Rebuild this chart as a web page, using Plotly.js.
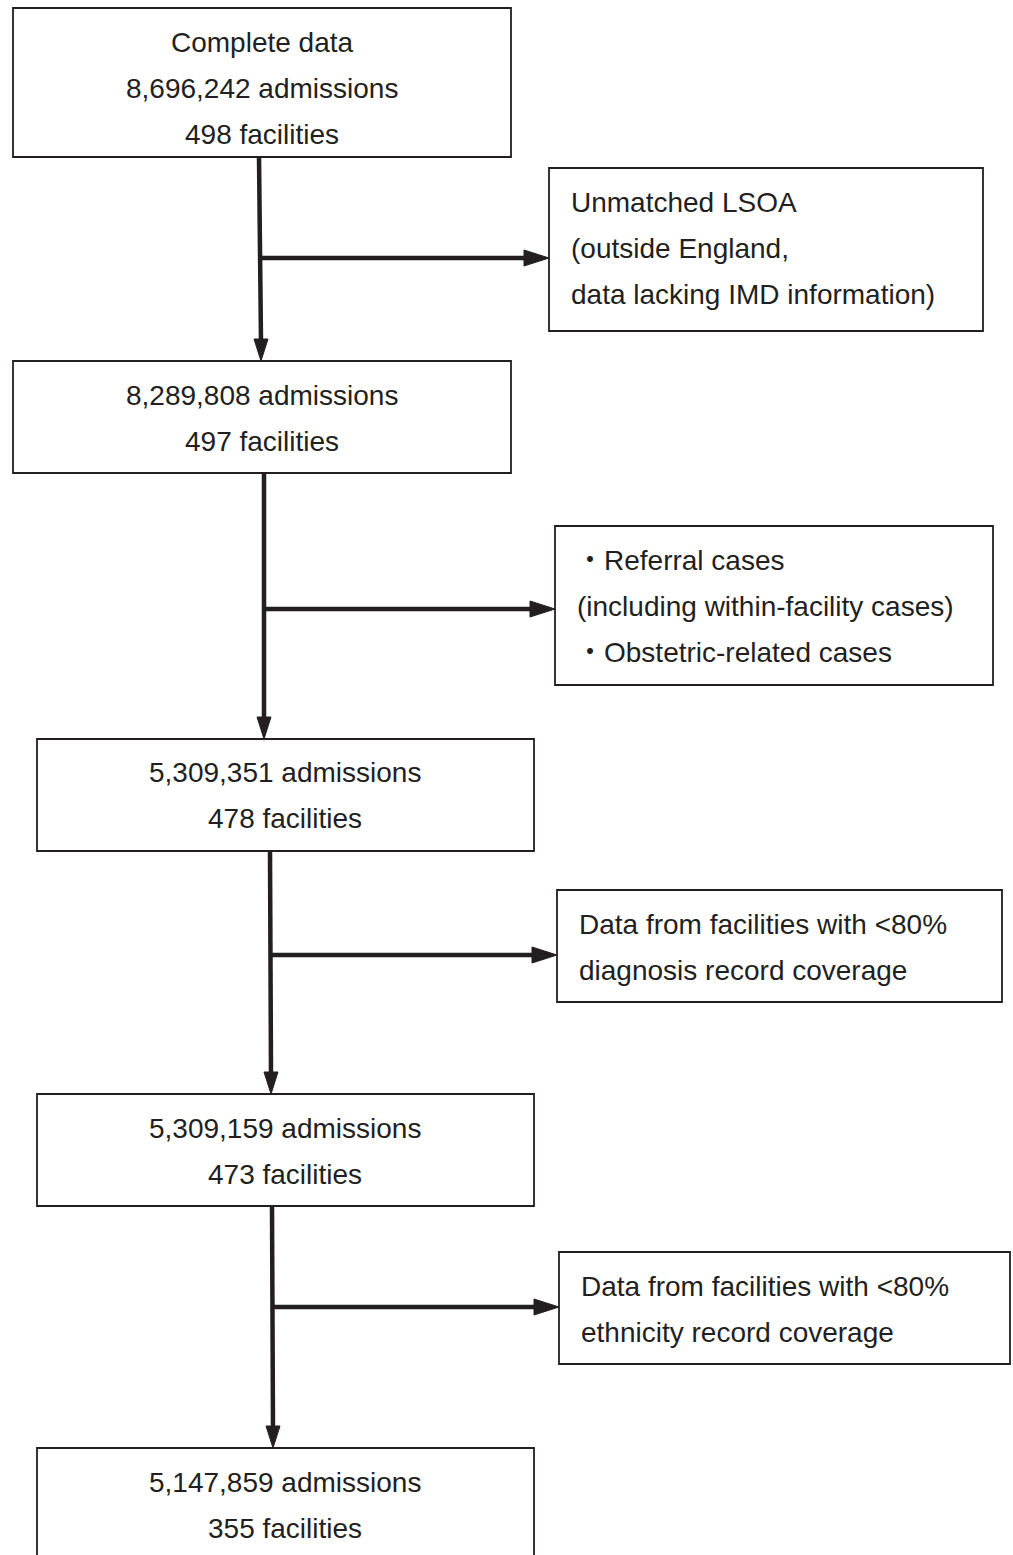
<!DOCTYPE html>
<html>
<head>
<meta charset="utf-8">
<script src="https://cdn.plot.ly/plotly-3.0.1.min.js"></script>
<style>html,body{margin:0;padding:0;background:#fff;}#chart{width:1013px;height:1555px;}</style>
</head>
<body>
<div id="chart"></div>
<script>
// ---- data ----
const stageLabels = ["Complete data", "", "", "", ""];
const stageAdmissions = ["8,696,242", "8,289,808", "5,309,351", "5,309,159", "5,147,859"];
const stageFacilities = ["498", "497", "478", "473", "355"];
const exclusionLines = [
  ["Unmatched LSOA", "(outside England,", "data lacking IMD information)"],
  ["\u30FBReferral cases", "(including within-facility cases)", "\u30FBObstetric-related cases"],
  ["Data from facilities with <80%", "diagnosis record coverage"],
  ["Data from facilities with <80%", "ethnicity record coverage"]
];

// ---- layout geometry (pixels) ----
const mainBoxes = [
  {x0: 13, x1: 511, y0: 8, y1: 157, cx: 262, lines: [42, 88, 134]},
  {x0: 13, x1: 511, y0: 361, y1: 473, cx: 262, lines: [395, 441]},
  {x0: 37, x1: 534, y0: 739, y1: 851, cx: 285, lines: [772, 818]},
  {x0: 37, x1: 534, y0: 1094, y1: 1206, cx: 285, lines: [1128, 1174]},
  {x0: 37, x1: 534, y0: 1448, y1: 1575, cx: 285, lines: [1482, 1528]}
];
const sideBoxes = [
  {x0: 549, x1: 983, y0: 168, y1: 331, tx: 569, lines: [202, 248, 294]},
  {x0: 555, x1: 993, y0: 526, y1: 685, tx: 575, lines: [560, 606, 652]},
  {x0: 557, x1: 1002, y0: 890, y1: 1002, tx: 577, lines: [924, 970]},
  {x0: 559, x1: 1010, y0: 1252, y1: 1364, tx: 579, lines: [1286, 1332]}
];
const arrows = [
  {xt: 259, xb: 261, yt: 157, yb: 361, hy: 258},
  {xt: 264, xb: 264, yt: 473, yb: 739, hy: 609},
  {xt: 270, xb: 271, yt: 851, yb: 1094, hy: 955},
  {xt: 272, xb: 273, yt: 1206, yb: 1448, hy: 1307}
];

const ink = "#231f20";
const font = {family: "Liberation Sans, Arial, Helvetica, 'Noto Sans CJK JP', sans-serif", size: 28, color: ink};

const shapes = [];
const annotations = [];

function rect(b) {
  shapes.push({type: "rect", xref: "x", yref: "y", x0: b.x0, x1: b.x1, y0: b.y0, y1: b.y1,
    line: {color: ink, width: 1.8}, fillcolor: "rgba(0,0,0,0)"});
}

mainBoxes.forEach((b, i) => {
  rect(b);
  const texts = [];
  if (stageLabels[i]) texts.push(stageLabels[i]);
  texts.push(stageAdmissions[i] + " admissions");
  texts.push(stageFacilities[i] + " facilities");
  texts.forEach((t, k) => {
    annotations.push({x: b.cx, y: b.lines[k], xref: "x", yref: "y", text: t, showarrow: false,
      xanchor: "center", yanchor: "middle", font: font});
  });
});

sideBoxes.forEach((b, i) => {
  rect(b);
  exclusionLines[i].forEach((t, k) => {
    const isBullet = t.charAt(0) === "\u30FB";
    annotations.push({x: isBullet ? b.tx - 1 : b.tx, y: b.lines[k], xref: "x", yref: "y",
      text: t.replace(/</g, "&lt;"), showarrow: false,
      xanchor: "left", yanchor: "middle", font: font});
  });
});

arrows.forEach((a, i) => {
  const headL = 22, headW = 7;
  // vertical shaft
  shapes.push({type: "line", xref: "x", yref: "y", x0: a.xt, y0: a.yt, x1: a.xb, y1: a.yb - headL + 2,
    line: {color: ink, width: 4.5}});
  shapes.push({type: "path", xref: "x", yref: "y",
    path: `M ${a.xb - headW} ${a.yb - headL} L ${a.xb + headW} ${a.yb - headL} L ${a.xb} ${a.yb} Z`,
    fillcolor: ink, line: {color: ink, width: 1}});
  // horizontal branch
  const sb = sideBoxes[i];
  const hx0 = a.xt + (a.xb - a.xt) * (a.hy - a.yt) / (a.yb - a.yt);
  const hL = 25, hW = 8;
  shapes.push({type: "line", xref: "x", yref: "y", x0: hx0, y0: a.hy, x1: sb.x0 - hL + 2, y1: a.hy,
    line: {color: ink, width: 4.5}});
  shapes.push({type: "path", xref: "x", yref: "y",
    path: `M ${sb.x0 - hL} ${a.hy - hW} L ${sb.x0 - hL} ${a.hy + hW} L ${sb.x0} ${a.hy} Z`,
    fillcolor: ink, line: {color: ink, width: 1}});
});

const layout = {
  width: 1013, height: 1555,
  margin: {l: 0, r: 0, t: 0, b: 0},
  paper_bgcolor: "#ffffff", plot_bgcolor: "#ffffff",
  xaxis: {range: [0, 1013], visible: false, fixedrange: true},
  yaxis: {range: [1555, 0], visible: false, fixedrange: true},
  showlegend: false,
  shapes: shapes,
  annotations: annotations
};

Plotly.newPlot("chart", [], layout, {staticPlot: true, displayModeBar: false});
</script>
</body>
</html>
